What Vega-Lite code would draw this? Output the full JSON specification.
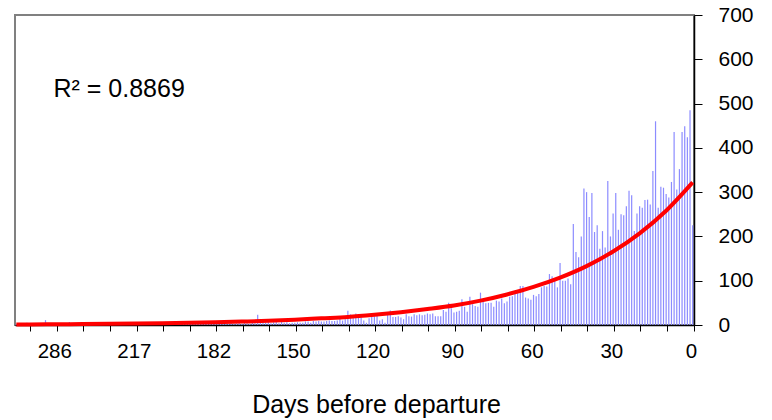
{
  "$schema": "https://vega.github.io/schema/vega-lite/v6.json",
  "width": 679,
  "height": 310,
  "autosize": {"type": "none"},
  "padding": {"left": 15, "top": 15, "right": 78, "bottom": 95},
  "background": "white",
  "config": {
    "view": {"stroke": "#808080", "strokeWidth": 2},
    "font": "Liberation Sans"
  },
  "datasets": {
    "bookings": [
      {"day":0,"bookings":225},{"day":1,"bookings":485},{"day":2,"bookings":424},{"day":3,"bookings":449},{"day":4,"bookings":436},
      {"day":5,"bookings":352},{"day":6,"bookings":306},{"day":7,"bookings":436},{"day":8,"bookings":323},{"day":9,"bookings":288},
      {"day":10,"bookings":296},{"day":11,"bookings":310},{"day":12,"bookings":312},{"day":13,"bookings":265},{"day":14,"bookings":460},
      {"day":15,"bookings":348},{"day":16,"bookings":272},{"day":17,"bookings":283},{"day":18,"bookings":282},{"day":19,"bookings":265},
      {"day":20,"bookings":268},{"day":21,"bookings":252},{"day":22,"bookings":212},{"day":23,"bookings":293},{"day":24,"bookings":303},
      {"day":25,"bookings":268},{"day":26,"bookings":248},{"day":27,"bookings":250},{"day":28,"bookings":215},{"day":29,"bookings":298},
      {"day":30,"bookings":252},{"day":31,"bookings":200},{"day":32,"bookings":325},{"day":33,"bookings":175},{"day":34,"bookings":212},
      {"day":35,"bookings":172},{"day":36,"bookings":225},{"day":37,"bookings":210},{"day":38,"bookings":298},{"day":39,"bookings":244},
      {"day":40,"bookings":300},{"day":41,"bookings":308},{"day":42,"bookings":200},{"day":43,"bookings":153},{"day":44,"bookings":165},
      {"day":45,"bookings":228},{"day":46,"bookings":92},{"day":47,"bookings":105},{"day":48,"bookings":100},{"day":49,"bookings":100},
      {"day":50,"bookings":140},{"day":51,"bookings":85},{"day":52,"bookings":100},{"day":53,"bookings":110},{"day":54,"bookings":115},
      {"day":55,"bookings":87},{"day":56,"bookings":88},{"day":57,"bookings":85},{"day":58,"bookings":70},{"day":59,"bookings":65},
      {"day":60,"bookings":68},{"day":61,"bookings":57},{"day":62,"bookings":60},{"day":63,"bookings":62},{"day":64,"bookings":88},
      {"day":65,"bookings":88},{"day":66,"bookings":75},{"day":67,"bookings":71},{"day":68,"bookings":65},{"day":69,"bookings":64},
      {"day":70,"bookings":53},{"day":71,"bookings":49},{"day":72,"bookings":60},{"day":73,"bookings":53},{"day":74,"bookings":55},
      {"day":75,"bookings":41},{"day":76,"bookings":50},{"day":77,"bookings":50},{"day":78,"bookings":49},{"day":79,"bookings":53},
      {"day":80,"bookings":73},{"day":81,"bookings":41},{"day":82,"bookings":43},{"day":83,"bookings":47},{"day":84,"bookings":64},
      {"day":85,"bookings":30},{"day":86,"bookings":41},{"day":87,"bookings":58},{"day":88,"bookings":32},{"day":89,"bookings":30},
      {"day":90,"bookings":28},{"day":91,"bookings":38},{"day":92,"bookings":50},{"day":93,"bookings":30},{"day":94,"bookings":34},
      {"day":95,"bookings":20},{"day":96,"bookings":20},{"day":97,"bookings":20},{"day":98,"bookings":26},{"day":99,"bookings":24},
      {"day":100,"bookings":26},{"day":101,"bookings":23},{"day":102,"bookings":22},{"day":103,"bookings":24},{"day":104,"bookings":22},
      {"day":105,"bookings":24},{"day":106,"bookings":19},{"day":107,"bookings":20},{"day":108,"bookings":24},{"day":109,"bookings":13},
      {"day":110,"bookings":17},{"day":111,"bookings":20},{"day":112,"bookings":18},{"day":113,"bookings":18},{"day":114,"bookings":33},
      {"day":115,"bookings":24},{"day":116,"bookings":5},{"day":117,"bookings":13},{"day":118,"bookings":10},{"day":119,"bookings":26},
      {"day":120,"bookings":20},{"day":121,"bookings":23},{"day":122,"bookings":15},{"day":123,"bookings":5},{"day":124,"bookings":10},
      {"day":125,"bookings":17},{"day":126,"bookings":17},{"day":127,"bookings":26},{"day":128,"bookings":20},{"day":129,"bookings":24},
      {"day":130,"bookings":32},{"day":131,"bookings":13},{"day":132,"bookings":10},{"day":133,"bookings":17},{"day":134,"bookings":10},
      {"day":135,"bookings":9},{"day":136,"bookings":9},{"day":137,"bookings":10},{"day":138,"bookings":9},{"day":139,"bookings":8},
      {"day":140,"bookings":8},{"day":141,"bookings":9},{"day":142,"bookings":8},{"day":143,"bookings":9},{"day":144,"bookings":5},
      {"day":145,"bookings":8},{"day":146,"bookings":8},{"day":147,"bookings":5},{"day":148,"bookings":5},{"day":149,"bookings":6},
      {"day":150,"bookings":5},
      {"day":151,"bookings":5},{"day":152,"bookings":4},{"day":153,"bookings":6},{"day":154,"bookings":5},{"day":155,"bookings":8},
      {"day":156,"bookings":4},{"day":157,"bookings":10},{"day":159,"bookings":6},{"day":160,"bookings":4},{"day":161,"bookings":7},
      {"day":162,"bookings":5},{"day":163,"bookings":6},{"day":164,"bookings":5},{"day":165,"bookings":23},{"day":166,"bookings":4},
      {"day":167,"bookings":6},{"day":168,"bookings":3},{"day":169,"bookings":4},{"day":170,"bookings":10},{"day":172,"bookings":3},
      {"day":173,"bookings":5},{"day":174,"bookings":4},{"day":175,"bookings":3},{"day":176,"bookings":6},{"day":177,"bookings":2},
      {"day":178,"bookings":4},{"day":179,"bookings":3},{"day":180,"bookings":5},{"day":181,"bookings":3},{"day":182,"bookings":4},
      {"day":183,"bookings":3},{"day":184,"bookings":4},{"day":185,"bookings":2},{"day":186,"bookings":3},{"day":188,"bookings":5},
      {"day":189,"bookings":3},{"day":190,"bookings":8},{"day":191,"bookings":2},{"day":192,"bookings":3},{"day":194,"bookings":4},
      {"day":195,"bookings":2},{"day":196,"bookings":3},{"day":197,"bookings":3},{"day":198,"bookings":2},{"day":200,"bookings":4},
      {"day":201,"bookings":3},{"day":202,"bookings":2},{"day":203,"bookings":3},{"day":204,"bookings":4},{"day":206,"bookings":2},
      {"day":207,"bookings":3},{"day":208,"bookings":2},{"day":209,"bookings":3},{"day":210,"bookings":6},{"day":212,"bookings":2},
      {"day":213,"bookings":3},{"day":214,"bookings":2},{"day":215,"bookings":2},{"day":216,"bookings":3},{"day":217,"bookings":2},
      {"day":220,"bookings":2},{"day":222,"bookings":3},{"day":224,"bookings":2},{"day":227,"bookings":1},{"day":229,"bookings":2},
      {"day":231,"bookings":3},{"day":234,"bookings":2},{"day":236,"bookings":2},{"day":238,"bookings":1},{"day":241,"bookings":2},
      {"day":243,"bookings":3},{"day":245,"bookings":2},{"day":248,"bookings":1},{"day":250,"bookings":2},{"day":252,"bookings":2},
      {"day":255,"bookings":3},{"day":257,"bookings":2},{"day":259,"bookings":1},{"day":262,"bookings":2},{"day":264,"bookings":2},
      {"day":266,"bookings":1},{"day":269,"bookings":2},{"day":271,"bookings":3},{"day":273,"bookings":2},{"day":276,"bookings":7},
      {"day":278,"bookings":2},{"day":280,"bookings":1},{"day":282,"bookings":2},{"day":284,"bookings":2},{"day":286,"bookings":1},
      {"day":289,"bookings":2},{"day":291,"bookings":3},{"day":294,"bookings":1},{"day":297,"bookings":11},{"day":300,"bookings":2},
      {"day":303,"bookings":1},{"day":307,"bookings":2},{"day":310,"bookings":3},{"day":314,"bookings":1},{"day":318,"bookings":2},
      {"day":322,"bookings":5},{"day":327,"bookings":1},{"day":333,"bookings":2},{"day":340,"bookings":1},{"day":350,"bookings":2}
    ],
    "trend": [
      {"day":0,"trend":322},{"day":10,"trend":258},{"day":20,"trend":207},{"day":30,"trend":166},{"day":40,"trend":133},
      {"day":50,"trend":107},{"day":60,"trend":86},{"day":70,"trend":69},{"day":80,"trend":55},{"day":90,"trend":44},
      {"day":100,"trend":36},{"day":110,"trend":29},{"day":120,"trend":23},{"day":130,"trend":18},{"day":140,"trend":15},
      {"day":150,"trend":12},{"day":161,"trend":9.6},{"day":172,"trend":7.7},{"day":182,"trend":6.2},{"day":194,"trend":5},
      {"day":206,"trend":4},{"day":217,"trend":3.2},{"day":241,"trend":2.6},{"day":264,"trend":2.1},{"day":286,"trend":1.7},
      {"day":318,"trend":1.3},{"day":350,"trend":1.2}
    ]
  },
  "encoding": {
    "x": {
      "field": "day",
      "type": "ordinal",
      "scale": {"reverse": true, "paddingInner": 0, "paddingOuter": 0},
      "axis": {
        "values": [0,10,20,30,40,50,60,70,80,90,100,110,120,130,140,150,161,172,182,194,206,217,241,264,286,318],
        "bandPosition": 1,
        "labelOffset": -1.3,
        "labelExpr": "indexof([0,30,60,90,120,150,182,217,286], datum.value) >= 0 ? datum.label : ''",
        "labelAngle": 0,
        "labelFontSize": 20.5,
        "labelColor": "black",
        "labelPadding": 10,
        "labelFont": "Liberation Sans",
        "tickSize": 6,
        "tickColor": "black",
        "tickWidth": 1,
        "domainColor": "black",
        "domainWidth": 1.5,
        "grid": false,
        "title": "Days before departure",
        "titleFont": "Liberation Sans",
        "titleFontSize": 25,
        "titleFontWeight": "normal",
        "titleColor": "black",
        "titleX": 361,
        "titleY": 87,
        "titleAlign": "center",
        "titleBaseline": "alphabetic"
      }
    }
  },
  "layer": [
    {
      "data": {"name": "bookings"},
      "mark": {"type": "bar", "size": 1.2, "color": "#8c8cff"},
      "encoding": {
        "y": {
          "field": "bookings",
          "type": "quantitative",
          "scale": {"domain": [0, 700], "nice": false},
          "axis": {
            "orient": "right",
            "values": [0,100,200,300,400,500,600,700],
            "title": null,
            "grid": false,
            "labelFontSize": 21,
            "labelColor": "black",
            "labelFont": "Liberation Sans",
            "labelPadding": 16,
            "tickSize": 8,
            "tickColor": "black",
            "domainColor": "black",
            "domainWidth": 1.5
          }
        }
      }
    },
    {
      "data": {"name": "trend"},
      "mark": {"type": "line", "color": "#ff0000", "strokeWidth": 4, "interpolate": "monotone"},
      "encoding": {
        "y": {"field": "trend", "type": "quantitative", "title": null}
      }
    },
    {
      "data": {"values": [{"label": "R² = 0.8869"}]},
      "mark": {"type": "text", "align": "left", "baseline": "alphabetic", "fontSize": 25, "font": "Liberation Sans", "color": "black"},
      "encoding": {
        "x": {"datum": 289, "type": "ordinal"},
        "y": {"datum": 515, "type": "quantitative"},
        "text": {"field": "label"}
      }
    }
  ]
}
